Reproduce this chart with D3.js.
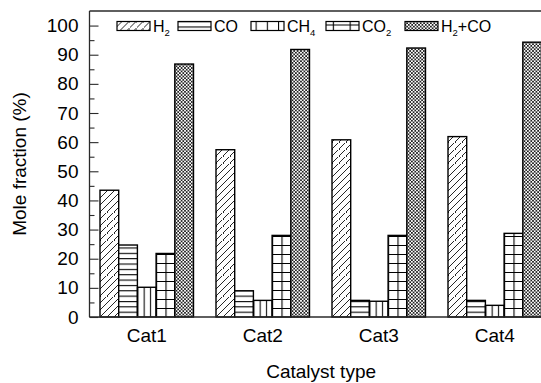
<!DOCTYPE html>
<html><head><meta charset="utf-8">
<script src="https://cdn.jsdelivr.net/npm/d3@7"></script>
<style>
body{margin:0;background:#fff}
svg{display:block}
text{font-family:"Liberation Sans",Arial,sans-serif;fill:#000}
</style>
</head><body>
<svg id="chart" width="541" height="383"></svg>
<script>
// Gas composition per catalyst (mole %)
const categories = ["Cat1", "Cat2", "Cat3", "Cat4"];
const seriesKeys = ["H2", "CO", "CH4", "CO2", "H2CO"];
const h2Values   = [43.5, 57.4, 60.8, 61.9];
const coValues   = [24.7, 9.0, 5.7, 5.7];
const ch4Values  = [10.2, 5.7, 5.4, 4.0];
const co2Values  = [21.8, 28.0, 28.0, 28.7];
const h2coValues = [86.8, 91.8, 92.3, 94.3];
const yTickValues = [0, 10, 20, 30, 40, 50, 60, 70, 80, 90, 100];
const yMinorValues = [5, 15, 25, 35, 45, 55, 65, 75, 85, 95];
const legendLabels = [
  {main: "H", sub: "2", tail: ""},
  {main: "CO", sub: "", tail: ""},
  {main: "CH", sub: "4", tail: ""},
  {main: "CO", sub: "2", tail: ""},
  {main: "H", sub: "2", tail: "+CO"}
];
const xTitle = "Catalyst type";
const yTitle = "Mole fraction (%)";

const valuesByKey = {H2: h2Values, CO: coValues, CH4: ch4Values, CO2: co2Values, H2CO: h2coValues};

const svg = d3.select("#chart");
const plotLeft = 89.5, plotTop = 11, plotBottom = 317, plotRight = 552.75;

const x = d3.scaleBand().domain(categories).range([88.75, plotRight])
  .paddingInner(0.194).paddingOuter(0.097);
const xs = d3.scaleBand().domain(seriesKeys).range([0, x.bandwidth()]);
const y = d3.scaleLinear().domain([0, 105]).range([plotBottom, plotTop]);

const bw = xs.bandwidth();
const cells = [];
categories.forEach((c, i) => seriesKeys.forEach(k => {
  cells.push({cat: c, key: k, value: valuesByKey[k][i], id: "p-" + c + "-" + k});
}));

// Fill patterns, one per bar so the hatching lines up with each bar's edge
const defs = svg.append("defs");
function buildPattern(p, key, x0, y0, w) {
  p.attr("patternUnits", "userSpaceOnUse").attr("x", x0).attr("y", y0);
  p.append("rect").attr("width", 100).attr("height", 100).attr("fill", "#fff");
  if (key === "H2") {
    const s = 7;
    p.attr("width", s).attr("height", s);
    p.append("path").attr("d", `M0,${s} L${s},0 M-1,1 L1,-1 M${s-1},${s+1} L${s+1},${s-1}`)
      .attr("stroke", "#000").attr("stroke-width", 0.85);
  } else if (key === "CO") {
    p.attr("width", w).attr("height", 5.35);
    p.append("line").attr("x1", 0).attr("x2", w).attr("y1", 0.5).attr("y2", 0.5)
      .attr("stroke", "#000").attr("stroke-width", 1.2);
  } else if (key === "CH4") {
    p.attr("width", w / 3).attr("height", 10);
    p.append("line").attr("x1", 0.5).attr("x2", 0.5).attr("y1", 0).attr("y2", 10)
      .attr("stroke", "#000").attr("stroke-width", 1.1);
  } else if (key === "CO2") {
    p.attr("width", w / 2).attr("height", 9);
    p.append("path").attr("d", `M0.5,0 V9 M0,0.5 H${w / 2}`)
      .attr("stroke", "#000").attr("stroke-width", 1.2);
  } else {
    const s = 3.4;
    p.attr("width", s).attr("height", s).attr("x", x0).attr("y", 0);
    p.append("path").attr("d", `M0,0 L${s},${s} M0,${s} L${s},0`)
      .attr("stroke", "#000").attr("stroke-width", 0.75);
  }
}
cells.forEach(d => {
  const x0 = x(d.cat) + xs(d.key);
  buildPattern(defs.append("pattern").attr("id", d.id), d.key, x0, plotBottom, bw);
});

// Bars
svg.append("g").selectAll("rect").data(cells).join("rect")
  .attr("x", d => x(d.cat) + xs(d.key))
  .attr("y", d => y(d.value))
  .attr("width", bw)
  .attr("height", d => y(0) - y(d.value))
  .attr("fill", d => `url(#${d.id})`)
  .attr("stroke", "#000").attr("stroke-width", 1.4);

// Frame: top border and baseline
const axisColor = "#2a2a2a";
svg.append("line").attr("x1", plotLeft).attr("x2", 541).attr("y1", plotTop).attr("y2", plotTop)
  .attr("stroke", axisColor).attr("stroke-width", 1.3);
svg.append("line").attr("x1", plotLeft).attr("x2", 541).attr("y1", plotBottom).attr("y2", plotBottom)
  .attr("stroke", axisColor).attr("stroke-width", 1.3);

// Y axis with inward major and minor ticks
const yAxis = d3.axisLeft(y).tickValues(yTickValues).tickSizeInner(-9).tickSizeOuter(0).tickPadding(11);
const gy = svg.append("g").attr("transform", `translate(${plotLeft},0)`).call(yAxis);
gy.select(".domain").attr("d", `M0,${plotTop}V${plotBottom}`).attr("stroke", axisColor).attr("stroke-width", 1.3);
gy.selectAll(".tick line").attr("stroke", axisColor).attr("stroke-width", 1.1);
gy.selectAll(".tick text").attr("font-size", 19).attr("font-family", "Liberation Sans, Arial, sans-serif").attr("fill", "#000");
const gyMinor = svg.append("g").attr("transform", `translate(${plotLeft},0)`)
  .call(d3.axisLeft(y).tickValues(yMinorValues).tickSizeInner(-5).tickSizeOuter(0).tickFormat(""));
gyMinor.select(".domain").remove();
gyMinor.selectAll(".tick line").attr("stroke", axisColor).attr("stroke-width", 1.1);

// Category labels
const xAxis = d3.axisBottom(x).tickSize(0).tickPadding(12);
const gx = svg.append("g").attr("transform", `translate(0,${plotBottom})`).call(xAxis);
gx.select(".domain").remove();
gx.selectAll(".tick text").attr("font-size", 19).attr("font-family", "Liberation Sans, Arial, sans-serif").attr("fill", "#000");

// Axis titles
svg.append("text").attr("x", (plotLeft + plotRight) / 2).attr("y", 377.5)
  .attr("text-anchor", "middle").attr("font-size", 19).text(xTitle);
svg.append("text").attr("transform", `translate(26,${(plotTop + plotBottom) / 2}) rotate(-90)`)
  .attr("text-anchor", "middle").attr("font-size", 19).text(yTitle);

// Legend
const legendX = [117, 178, 251, 326, 405];
const legendY = 21.5;
seriesKeys.forEach((k, i) => {
  buildPattern(defs.append("pattern").attr("id", "lg-" + k), k, legendX[i], legendY - 0.5, 33.6);
});
const lg = svg.append("g").selectAll("g").data(seriesKeys).join("g")
  .attr("transform", (d, i) => `translate(${legendX[i]},${legendY})`);
lg.append("rect").attr("width", 33).attr("height", 9)
  .attr("fill", d => `url(#lg-${d})`).attr("stroke", "#000").attr("stroke-width", 1.2);
const lt = lg.append("text").attr("x", 36).attr("y", 10.5).attr("font-size", 16);
lt.append("tspan").text((d, i) => legendLabels[i].main);
lt.append("tspan").attr("font-size", 9.5).attr("dy", 4).text((d, i) => legendLabels[i].sub);
lt.append("tspan").attr("dy", (d, i) => legendLabels[i].sub ? -4 : 0).text((d, i) => legendLabels[i].tail);
</script>
</body></html>
